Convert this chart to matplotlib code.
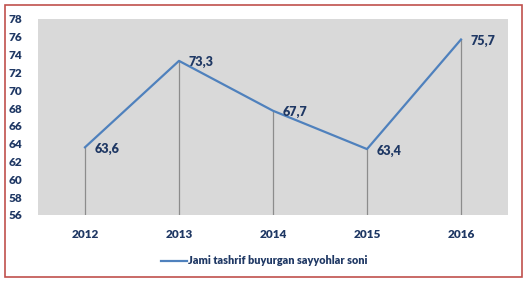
import matplotlib
matplotlib.use("Agg")
import matplotlib.pyplot as plt
from matplotlib.patches import Rectangle

years = ["2012", "2013", "2014", "2015", "2016"]
values = [63.6, 73.3, 67.7, 63.4, 75.7]
labels = ["63,6", "73,3", "67,7", "63,4", "75,7"]
yticks = list(range(56, 79, 2))
series_name = "Jami tashrif buyurgan sayyohlar soni"

plt.rcParams['font.family'] = ['Lato', 'DejaVu Sans']

txt = "#1F3864"
fig = plt.figure(figsize=(5.28, 2.82), dpi=100)
W, H = 528, 282
ax = fig.add_axes([38 / W, 1 - 215 / H, 470 / W, 196 / H])
ax.set_facecolor("#D9D9D9")
x = list(range(len(years)))
ax.plot(x, values, color="#4F81BD", lw=1.6, label=series_name, zorder=3)
ax.vlines(x, 56, values, color="#8C8C8C", lw=0.9, zorder=2)
for xi, v, l in zip(x, values, labels):
    ax.annotate(l, (xi, v), xytext=(7, -1), textcoords="offset points",
                ha="left", va="center", fontsize=9, fontweight="heavy", color=txt)
ax.set_xlim(-0.5, 4.5)
ax.set_ylim(56, 78)
ax.set_yticks(yticks)
ax.set_xticks(x)
ax.set_xticklabels(years)
for s in ax.spines.values():
    s.set_visible(False)
ax.tick_params(length=0, labelsize=8.5, labelcolor=txt)
ax.tick_params(axis='y', pad=11)
ax.tick_params(axis='x', pad=10)
for t in ax.get_xticklabels() + ax.get_yticklabels():
    t.set_fontweight("heavy")
leg = ax.legend(loc="center", bbox_to_anchor=(264 / W, 1 - 261 / H), bbox_transform=fig.transFigure,
                frameon=False, fontsize=7.8, handlelength=2.4, handletextpad=0.1)
for t in leg.get_texts():
    t.set_color(txt)
    t.set_fontweight("heavy")
fig.patches.append(Rectangle((5 / W, 1 - 277 / H), 517 / W, 272 / H, transform=fig.transFigure,
                             fill=False, edgecolor="#C0504D", lw=1.2))
fig.savefig("out.png", dpi=100)
